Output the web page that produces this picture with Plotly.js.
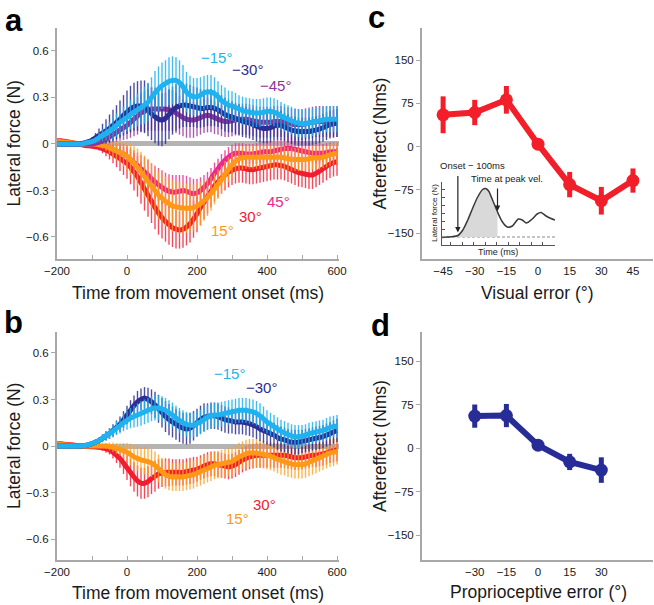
<!DOCTYPE html>
<html>
<head>
<meta charset="utf-8">
<script src="https://cdn.plot.ly/plotly-3.0.1.min.js"></script>
<style>html,body{margin:0;padding:0;background:#fff;}#chart{width:654px;height:605px;}</style>
</head>
<body>
<div id="chart"></div>
<script>
// ---------- time base (ms) ----------
var time_ms = [-200,-190,-180,-170,-160,-150,-140,-130,-120,-110,
  -100,-90,-80,-70,-60,-50,-40,-30,-20,-10,
  0,10,20,30,40,50,60,70,80,90,
  100,110,120,130,140,150,160,170,180,190,
  200,210,220,230,240,250,260,270,280,290,
  300,310,320,330,340,350,360,370,380,390,
  400,410,420,430,440,450,460,470,480,490,
  500,510,520,530,540,550,560,570,580,590,
  600];

// ---------- panel a : lateral force (N) ----------
var a_m15 = [0,0,0,0,0,0,0,0,0.005,0.01,
  0.015,0.025,0.04,0.055,0.07,0.085,0.10,0.12,0.14,0.155,
  0.17,0.19,0.205,0.22,0.235,0.25,0.27,0.3,0.33,0.355,
  0.375,0.39,0.405,0.41,0.41,0.395,0.37,0.335,0.315,0.305,
  0.305,0.315,0.33,0.335,0.335,0.325,0.305,0.28,0.265,0.25,
  0.245,0.235,0.225,0.215,0.21,0.205,0.2,0.2,0.2,0.205,
  0.21,0.21,0.205,0.195,0.18,0.17,0.16,0.15,0.14,0.135,
  0.13,0.13,0.135,0.14,0.145,0.15,0.155,0.16,0.16,0.16,
  0.16];
var a_m15_err = [0,0,0,0,0,0,0,0,0,0.005,
  0.01,0.02,0.03,0.04,0.05,0.06,0.07,0.075,0.08,0.085,
  0.09,0.095,0.1,0.105,0.11,0.12,0.125,0.13,0.14,0.145,
  0.15,0.15,0.155,0.155,0.15,0.145,0.14,0.13,0.125,0.12,
  0.12,0.115,0.11,0.11,0.11,0.105,0.1,0.1,0.1,0.095,
  0.095,0.095,0.09,0.09,0.09,0.09,0.09,0.09,0.09,0.09,
  0.09,0.09,0.09,0.09,0.09,0.09,0.09,0.09,0.09,0.09,
  0.09,0.09,0.09,0.09,0.09,0.09,0.085,0.085,0.085,0.085,
  0.085];
var a_m30 = [0,0,0,0,0,0,0,0.003,0.008,0.015,
  0.025,0.04,0.055,0.07,0.085,0.1,0.12,0.14,0.16,0.185,
  0.205,0.225,0.24,0.245,0.245,0.24,0.22,0.195,0.175,0.16,
  0.155,0.165,0.19,0.215,0.235,0.245,0.25,0.25,0.245,0.24,
  0.235,0.23,0.23,0.235,0.235,0.23,0.22,0.205,0.19,0.18,
  0.175,0.165,0.155,0.145,0.14,0.135,0.125,0.115,0.105,0.1,
  0.1,0.105,0.115,0.12,0.12,0.11,0.1,0.09,0.085,0.08,
  0.08,0.08,0.08,0.085,0.09,0.095,0.105,0.115,0.125,0.13,
  0.135];
var a_m30_err = [0,0,0,0,0,0,0,0,0.005,0.01,
  0.02,0.03,0.045,0.06,0.075,0.09,0.1,0.11,0.12,0.13,
  0.14,0.15,0.155,0.16,0.165,0.17,0.17,0.17,0.17,0.17,
  0.17,0.165,0.16,0.155,0.15,0.145,0.14,0.14,0.135,0.13,
  0.13,0.125,0.12,0.12,0.12,0.115,0.11,0.11,0.11,0.105,
  0.1,0.1,0.1,0.1,0.1,0.1,0.1,0.1,0.095,0.095,
  0.095,0.095,0.095,0.095,0.095,0.09,0.09,0.09,0.09,0.09,
  0.09,0.09,0.09,0.09,0.09,0.09,0.09,0.09,0.09,0.09,
  0.09];
var a_m45 = [0,0,0,0,0,0,0,0,0,0,
  0,0.005,0.01,0.02,0.03,0.045,0.06,0.075,0.09,0.105,
  0.12,0.14,0.16,0.18,0.2,0.21,0.22,0.225,0.225,0.225,
  0.225,0.225,0.22,0.215,0.2,0.185,0.17,0.16,0.155,0.155,
  0.16,0.17,0.18,0.185,0.18,0.17,0.16,0.15,0.145,0.145,
  0.15,0.155,0.16,0.16,0.16,0.155,0.15,0.145,0.14,0.14,
  0.14,0.14,0.145,0.145,0.145,0.14,0.135,0.13,0.125,0.125,
  0.125,0.13,0.135,0.14,0.145,0.145,0.145,0.145,0.145,0.145,
  0.145];
var a_m45_err = [0,0,0,0,0,0,0,0,0,0,
  0,0.005,0.01,0.02,0.03,0.04,0.05,0.06,0.07,0.08,
  0.09,0.1,0.11,0.12,0.125,0.13,0.135,0.14,0.14,0.14,
  0.14,0.14,0.135,0.13,0.13,0.125,0.12,0.12,0.115,0.115,
  0.11,0.11,0.11,0.11,0.105,0.105,0.1,0.1,0.1,0.1,
  0.1,0.1,0.1,0.1,0.1,0.1,0.1,0.1,0.1,0.1,
  0.1,0.1,0.1,0.1,0.1,0.1,0.1,0.1,0.1,0.1,
  0.1,0.1,0.1,0.1,0.1,0.1,0.1,0.1,0.1,0.1,
  0.1];
var a_p30 = [0.02,0.02,0.018,0.015,0.01,0.005,0,-0.005,-0.01,-0.012,
  -0.015,-0.018,-0.022,-0.03,-0.04,-0.05,-0.065,-0.08,-0.095,-0.11,
  -0.125,-0.15,-0.18,-0.21,-0.25,-0.29,-0.33,-0.37,-0.41,-0.445,
  -0.475,-0.5,-0.52,-0.54,-0.55,-0.555,-0.55,-0.535,-0.515,-0.485,
  -0.45,-0.41,-0.375,-0.34,-0.305,-0.27,-0.245,-0.22,-0.2,-0.18,
  -0.17,-0.16,-0.155,-0.155,-0.16,-0.165,-0.165,-0.16,-0.155,-0.15,
  -0.145,-0.14,-0.135,-0.135,-0.14,-0.145,-0.155,-0.165,-0.175,-0.185,
  -0.19,-0.195,-0.2,-0.2,-0.19,-0.175,-0.16,-0.145,-0.13,-0.12,
  -0.115];
var a_p30_err = [0,0,0,0,0,0,0,0,0,0.005,
  0.01,0.015,0.02,0.03,0.04,0.05,0.06,0.07,0.08,0.09,
  0.1,0.11,0.12,0.13,0.135,0.14,0.14,0.14,0.14,0.14,
  0.135,0.13,0.13,0.125,0.125,0.12,0.12,0.12,0.12,0.12,
  0.12,0.115,0.11,0.11,0.105,0.1,0.1,0.1,0.1,0.1,
  0.095,0.095,0.095,0.095,0.095,0.095,0.095,0.095,0.095,0.095,
  0.095,0.095,0.095,0.095,0.09,0.09,0.09,0.09,0.09,0.09,
  0.09,0.09,0.09,0.09,0.09,0.09,0.09,0.09,0.09,0.09,
  0.09];
var a_p15 = [0.015,0.015,0.012,0.01,0.008,0.005,0.003,0,0,0,
  0,0,-0.005,-0.01,-0.015,-0.025,-0.035,-0.045,-0.055,-0.065,
  -0.08,-0.1,-0.125,-0.15,-0.18,-0.21,-0.24,-0.27,-0.3,-0.33,
  -0.35,-0.37,-0.385,-0.4,-0.405,-0.41,-0.415,-0.415,-0.415,-0.41,
  -0.4,-0.385,-0.365,-0.345,-0.32,-0.29,-0.26,-0.23,-0.195,-0.165,
  -0.135,-0.11,-0.095,-0.09,-0.085,-0.085,-0.085,-0.085,-0.085,-0.085,
  -0.085,-0.085,-0.085,-0.085,-0.085,-0.09,-0.095,-0.1,-0.1,-0.1,
  -0.1,-0.1,-0.095,-0.09,-0.09,-0.09,-0.085,-0.08,-0.07,-0.065,
  -0.06];
var a_p15_err = [0,0,0,0,0,0,0,0,0,0,
  0,0.005,0.01,0.02,0.03,0.04,0.05,0.06,0.07,0.08,
  0.09,0.1,0.11,0.12,0.13,0.135,0.14,0.145,0.15,0.155,
  0.16,0.16,0.165,0.165,0.165,0.165,0.16,0.16,0.155,0.15,
  0.145,0.14,0.13,0.12,0.11,0.1,0.095,0.09,0.085,0.08,
  0.08,0.075,0.075,0.075,0.075,0.075,0.075,0.075,0.075,0.075,
  0.075,0.075,0.075,0.075,0.075,0.075,0.075,0.075,0.075,0.075,
  0.075,0.075,0.075,0.075,0.075,0.075,0.07,0.07,0.07,0.07,
  0.07];
var a_p45 = [0,0,0,0,0,0,0,0,0,0,
  0,0,-0.003,-0.008,-0.015,-0.025,-0.035,-0.045,-0.055,-0.065,
  -0.08,-0.1,-0.12,-0.14,-0.16,-0.18,-0.2,-0.225,-0.245,-0.265,
  -0.28,-0.295,-0.305,-0.31,-0.31,-0.305,-0.3,-0.305,-0.315,-0.32,
  -0.315,-0.3,-0.28,-0.255,-0.225,-0.19,-0.16,-0.13,-0.105,-0.085,
  -0.07,-0.06,-0.06,-0.06,-0.065,-0.065,-0.065,-0.06,-0.055,-0.05,
  -0.05,-0.05,-0.045,-0.04,-0.035,-0.03,-0.03,-0.03,-0.035,-0.04,
  -0.045,-0.05,-0.055,-0.06,-0.06,-0.06,-0.06,-0.055,-0.05,-0.05,
  -0.05];
var a_p45_err = [0,0,0,0,0,0,0,0,0,0,
  0,0.005,0.01,0.015,0.02,0.03,0.04,0.05,0.06,0.065,
  0.07,0.075,0.08,0.085,0.09,0.095,0.1,0.1,0.105,0.11,
  0.11,0.11,0.11,0.11,0.11,0.105,0.1,0.1,0.1,0.095,
  0.09,0.085,0.08,0.075,0.07,0.07,0.065,0.065,0.065,0.065,
  0.065,0.065,0.065,0.065,0.065,0.065,0.065,0.065,0.065,0.065,
  0.065,0.065,0.065,0.065,0.065,0.065,0.065,0.065,0.065,0.065,
  0.065,0.065,0.065,0.065,0.065,0.065,0.06,0.06,0.06,0.06,
  0.06];

// ---------- panel b : lateral force (N) ----------
var b_m15 = [0,0,0,0,0,0,0,0,0.003,0.008,
  0.015,0.025,0.035,0.05,0.065,0.08,0.095,0.115,0.13,0.15,
  0.165,0.18,0.19,0.2,0.21,0.22,0.23,0.24,0.245,0.245,
  0.24,0.23,0.215,0.2,0.18,0.165,0.15,0.14,0.135,0.135,
  0.145,0.155,0.17,0.185,0.195,0.2,0.2,0.205,0.21,0.215,
  0.22,0.225,0.23,0.23,0.23,0.225,0.22,0.21,0.195,0.175,
  0.155,0.14,0.125,0.11,0.095,0.085,0.075,0.065,0.06,0.06,
  0.065,0.07,0.08,0.085,0.09,0.095,0.1,0.11,0.12,0.125,
  0.13];
var b_m15_err = [0,0,0,0,0,0,0,0,0,0.005,
  0.01,0.015,0.02,0.025,0.03,0.035,0.04,0.045,0.05,0.055,
  0.06,0.065,0.07,0.075,0.08,0.08,0.08,0.08,0.08,0.08,
  0.08,0.08,0.08,0.08,0.08,0.08,0.08,0.08,0.08,0.08,
  0.08,0.08,0.08,0.08,0.08,0.08,0.08,0.08,0.08,0.08,
  0.08,0.08,0.08,0.08,0.08,0.08,0.08,0.08,0.08,0.08,
  0.075,0.075,0.075,0.075,0.075,0.075,0.075,0.075,0.075,0.075,
  0.07,0.07,0.07,0.07,0.07,0.07,0.07,0.07,0.07,0.07,
  0.07];
var b_m30 = [0,0,0,0,0,0,0,0,0.003,0.008,
  0.015,0.025,0.035,0.05,0.065,0.08,0.1,0.12,0.14,0.17,
  0.2,0.23,0.26,0.285,0.3,0.31,0.3,0.285,0.265,0.24,
  0.215,0.19,0.17,0.155,0.14,0.125,0.115,0.11,0.115,0.13,
  0.15,0.17,0.185,0.19,0.195,0.195,0.19,0.18,0.17,0.165,
  0.16,0.155,0.155,0.155,0.15,0.145,0.135,0.125,0.11,0.1,
  0.09,0.08,0.07,0.055,0.045,0.04,0.03,0.025,0.025,0.025,
  0.03,0.035,0.04,0.045,0.05,0.055,0.06,0.07,0.08,0.09,
  0.1];
var b_m30_err = [0,0,0,0,0,0,0,0,0,0.005,
  0.01,0.015,0.02,0.025,0.03,0.035,0.04,0.045,0.05,0.055,
  0.06,0.065,0.065,0.07,0.07,0.07,0.075,0.08,0.085,0.09,
  0.095,0.1,0.1,0.1,0.1,0.1,0.1,0.1,0.1,0.095,
  0.09,0.09,0.09,0.085,0.085,0.085,0.085,0.085,0.085,0.085,
  0.08,0.08,0.08,0.08,0.08,0.08,0.08,0.08,0.08,0.08,
  0.08,0.08,0.08,0.08,0.08,0.08,0.08,0.08,0.08,0.08,
  0.075,0.075,0.075,0.075,0.075,0.075,0.075,0.075,0.075,0.075,
  0.075];
var b_p30 = [0.015,0.015,0.012,0.01,0.008,0.005,0.002,0,-0.002,-0.004,
  -0.005,-0.006,-0.008,-0.012,-0.018,-0.025,-0.04,-0.06,-0.08,-0.11,
  -0.14,-0.17,-0.2,-0.225,-0.24,-0.24,-0.23,-0.21,-0.195,-0.18,
  -0.175,-0.17,-0.17,-0.17,-0.17,-0.17,-0.17,-0.165,-0.16,-0.155,
  -0.15,-0.14,-0.13,-0.12,-0.115,-0.115,-0.12,-0.125,-0.13,-0.135,
  -0.13,-0.12,-0.105,-0.09,-0.08,-0.07,-0.065,-0.06,-0.06,-0.06,
  -0.06,-0.06,-0.06,-0.06,-0.06,-0.06,-0.065,-0.07,-0.075,-0.075,
  -0.075,-0.07,-0.065,-0.06,-0.06,-0.055,-0.05,-0.045,-0.035,-0.03,
  -0.025];
var b_p30_err = [0,0,0,0,0,0,0,0,0,0.005,
  0.005,0.01,0.015,0.02,0.025,0.03,0.04,0.05,0.06,0.07,
  0.08,0.09,0.095,0.1,0.1,0.1,0.1,0.1,0.1,0.095,
  0.09,0.09,0.09,0.085,0.085,0.085,0.085,0.085,0.085,0.085,
  0.08,0.08,0.08,0.08,0.08,0.08,0.08,0.08,0.08,0.08,
  0.08,0.08,0.08,0.08,0.08,0.08,0.08,0.08,0.08,0.08,
  0.08,0.08,0.08,0.08,0.08,0.08,0.08,0.08,0.08,0.08,
  0.075,0.075,0.075,0.075,0.075,0.075,0.075,0.075,0.075,0.075,
  0.075];
var b_p15 = [0.01,0.01,0.008,0.006,0.004,0.002,0,0,0,0,
  0,0,0,0,0,-0.003,-0.008,-0.015,-0.022,-0.03,
  -0.04,-0.055,-0.07,-0.08,-0.09,-0.095,-0.1,-0.11,-0.125,-0.145,
  -0.165,-0.185,-0.195,-0.2,-0.2,-0.2,-0.2,-0.195,-0.19,-0.185,
  -0.175,-0.165,-0.155,-0.145,-0.135,-0.125,-0.12,-0.115,-0.11,-0.105,
  -0.1,-0.085,-0.07,-0.06,-0.05,-0.045,-0.045,-0.045,-0.05,-0.055,
  -0.06,-0.065,-0.075,-0.085,-0.095,-0.1,-0.11,-0.115,-0.12,-0.12,
  -0.12,-0.115,-0.105,-0.095,-0.085,-0.075,-0.065,-0.055,-0.045,-0.04,
  -0.035];
var b_p15_err = [0,0,0,0,0,0,0,0,0,0,
  0,0.005,0.01,0.015,0.02,0.025,0.03,0.035,0.04,0.05,
  0.06,0.07,0.075,0.08,0.085,0.09,0.09,0.09,0.09,0.09,
  0.09,0.09,0.09,0.09,0.09,0.09,0.09,0.09,0.09,0.09,
  0.09,0.09,0.09,0.09,0.09,0.09,0.09,0.09,0.09,0.09,
  0.09,0.09,0.09,0.09,0.09,0.09,0.09,0.09,0.09,0.09,
  0.09,0.09,0.09,0.09,0.09,0.09,0.09,0.09,0.09,0.09,
  0.09,0.09,0.09,0.09,0.09,0.09,0.09,0.09,0.09,0.09,
  0.085];

// ---------- panels c and d : aftereffect (Nms) ----------
var visual_error = [-45,-30,-15,0,15,30,45];
var visual_after = [55,59,81,4,-66,-94,-59];
var visual_after_err = [32,22,24,6,22,24,21];
var prop_error = [-30,-15,0,15,30];
var prop_after = [55,56,5,-24,-38];
var prop_after_err = [20,20,5,14,22];

// ---------- inset (schematic lateral-force trace) ----------
var inset_time  = [0,5,10,16,21,26,31,36,41,44,47,51,56,61,66,71,77,81,85,91,96,100,105,110,114];
var inset_force = [-0.5,0,0.3,1.5,7,17,29,40,47.5,48.5,46,37,25,15,10,11,18,17,14,18,23,24.5,21,18.5,17];
var inset_onset_idx = 3;   // onset - 100 ms
var inset_peakvel_idx = 12; // time at peak velocity

// ---------- tick labels ----------
var time_tickvals = [-200,-100,0,100,200,300,400,500,600];
var time_ticktext = ['\u2212200','','0','','200','','400','','600'];
var force_tickvals = [-0.6,-0.3,0,0.3,0.6];
var force_ticktext = ['\u22120.6','\u22120.3','0','0.3','0.6'];
var after_tickvals = [-150,-75,0,75,150];
var after_ticktext = ['\u2212150','\u221275','0','75','150'];
var visual_tickvals = [-45,-30,-15,0,15,30,45];
var visual_ticktext = ['\u221245','\u221230','\u221215','0','15','30','45'];
var prop_tickvals = [-30,-15,0,15,30];
var prop_ticktext = ['\u221230','\u221215','0','15','30'];

// ---------- styling ----------
var FONT = 'Liberation Sans, Arial, Helvetica, sans-serif';
var C = {
  m15: 'rgb(30,178,238)', m30: 'rgb(44,46,148)', m45: 'rgb(142,52,152)',
  p30: 'rgb(240,28,48)', p15: 'rgb(255,152,22)', p45: 'rgb(236,40,140)'
};
var CE = {
  m15: 'rgba(30,178,238,0.85)', m30: 'rgba(44,46,148,0.85)', m45: 'rgba(142,52,152,0.8)',
  p30: 'rgba(240,28,48,0.8)', p15: 'rgba(255,160,30,0.8)', p45: 'rgba(236,40,140,0.8)'
};
var W = 654, H = 605;
function PX(px){ return px / W; }
function PY(py){ return 1 - py / H; }

function forceTrace(y, err, key, xa, ya){
  return {
    type: 'scatter', mode: 'lines', x: time_ms, y: y, xaxis: xa, yaxis: ya,
    line: {color: C[key], width: 5, shape: 'spline', smoothing: 0.6},
    error_y: {type: 'data', array: err, visible: true, color: CE[key], thickness: 1.4, width: 0},
    hoverinfo: 'skip'
  };
}

var data = [
  forceTrace(a_p30, a_p30_err, 'p30', 'x', 'y'),
  forceTrace(a_p45, a_p45_err, 'p45', 'x', 'y'),
  forceTrace(a_p15, a_p15_err, 'p15', 'x', 'y'),
  forceTrace(a_m45, a_m45_err, 'm45', 'x', 'y'),
  forceTrace(a_m30, a_m30_err, 'm30', 'x', 'y'),
  forceTrace(a_m15, a_m15_err, 'm15', 'x', 'y'),
  forceTrace(b_p30, b_p30_err, 'p30', 'x2', 'y2'),
  forceTrace(b_p15, b_p15_err, 'p15', 'x2', 'y2'),
  forceTrace(b_m30, b_m30_err, 'm30', 'x2', 'y2'),
  forceTrace(b_m15, b_m15_err, 'm15', 'x2', 'y2'),
  {
    type: 'scatter', mode: 'lines+markers', x: visual_error, y: visual_after,
    xaxis: 'x3', yaxis: 'y3',
    line: {color: 'rgb(242,30,42)', width: 6},
    marker: {color: 'rgb(242,30,42)', size: 13},
    error_y: {type: 'data', array: visual_after_err, visible: true, color: 'rgb(242,30,42)', thickness: 5, width: 0}
  },
  {
    type: 'scatter', mode: 'lines+markers', x: prop_error, y: prop_after,
    xaxis: 'x4', yaxis: 'y4',
    line: {color: 'rgb(40,44,150)', width: 6},
    marker: {color: 'rgb(40,44,150)', size: 13},
    error_y: {type: 'data', array: prop_after_err, visible: true, color: 'rgb(40,44,150)', thickness: 5, width: 0}
  },
  {
    type: 'scatter', mode: 'lines',
    x: inset_time.slice(inset_onset_idx, inset_peakvel_idx + 1),
    y: inset_force.slice(inset_onset_idx, inset_peakvel_idx + 1),
    xaxis: 'x5', yaxis: 'y5', fill: 'tozeroy', fillcolor: 'rgb(217,217,217)',
    line: {width: 0, color: 'rgba(0,0,0,0)', shape: 'spline'}
  },
  {
    type: 'scatter', mode: 'lines', x: inset_time, y: inset_force,
    xaxis: 'x5', yaxis: 'y5',
    line: {color: '#3a3a3a', width: 1.5, shape: 'spline', smoothing: 0.8}
  }
];

var tickfont = {family: FONT, size: 11.5, color: '#1a1a1a'};
var axisBase = {
  showline: true, linecolor: '#a8a8a8', linewidth: 2, showgrid: false, zeroline: false,
  tickcolor: '#a8a8a8', ticklen: 4, tickwidth: 1, tickfont: tickfont, fixedrange: true
};
function ax(extra){ var o = {}; for (var k in axisBase) o[k] = axisBase[k]; for (var k2 in extra) o[k2] = extra[k2]; return o; }

var layout = {
  width: W, height: H, margin: {l: 0, r: 0, t: 0, b: 0},
  paper_bgcolor: '#fff', plot_bgcolor: 'rgba(0,0,0,0)', showlegend: false,
  font: {family: FONT, color: '#1a1a1a'},
  xaxis: ax({domain: [PX(57), PX(339)], range: [-200, 605.7], anchor: 'y',
    tickmode: 'array', tickvals: time_tickvals, ticktext: time_ticktext, ticks: 'inside'}),
  yaxis: ax({domain: [PY(259), PY(28)], range: [-0.742, 0.748], anchor: 'x',
    tickmode: 'array', tickvals: force_tickvals, ticktext: force_ticktext, ticks: 'outside',
    zeroline: true, zerolinecolor: '#b4b4b4', zerolinewidth: 5}),
  xaxis2: ax({domain: [PX(57), PX(339)], range: [-200, 605.7], anchor: 'y2',
    tickmode: 'array', tickvals: time_tickvals, ticktext: time_ticktext, ticks: 'inside'}),
  yaxis2: ax({domain: [PY(560), PY(332)], range: [-0.735, 0.735], anchor: 'x2',
    tickmode: 'array', tickvals: force_tickvals, ticktext: force_ticktext, ticks: 'outside',
    zeroline: true, zerolinecolor: '#b4b4b4', zerolinewidth: 5}),
  xaxis3: ax({domain: [PX(422), PX(653)], range: [-55, 54.5], anchor: 'y3',
    tickmode: 'array', tickvals: visual_tickvals, ticktext: visual_ticktext, ticks: ''}),
  yaxis3: ax({domain: [PY(259), PY(28)], range: [-195, 205.5], anchor: 'x3',
    tickmode: 'array', tickvals: after_tickvals, ticktext: after_ticktext, ticks: 'outside'}),
  xaxis4: ax({domain: [PX(422), PX(653)], range: [-55, 54.5], anchor: 'y4',
    tickmode: 'array', tickvals: prop_tickvals, ticktext: prop_ticktext, ticks: ''}),
  yaxis4: ax({domain: [PY(560), PY(332)], range: [-193, 200], anchor: 'x4',
    tickmode: 'array', tickvals: after_tickvals, ticktext: after_ticktext, ticks: 'outside'}),
  xaxis5: {domain: [PX(442), PX(555)], range: [0, 114], anchor: 'y5', showline: true,
    linecolor: '#555', linewidth: 1, ticks: 'inside', ticklen: 3, tickcolor: '#555',
    tick0: 9, dtick: 11.6, showticklabels: false, showgrid: false, zeroline: false, fixedrange: true},
  yaxis5: {domain: [PY(245), PY(182)], range: [-8, 55], anchor: 'x5', showline: true,
    linecolor: '#555', linewidth: 1, ticks: 'inside', ticklen: 3, tickcolor: '#555',
    tick0: 0, dtick: 8, showticklabels: false, showgrid: false, zeroline: false, fixedrange: true},
  shapes: [
    {type: 'line', xref: 'x5 domain', yref: 'y5', x0: 0, x1: 1, y0: 0, y1: 0,
     line: {color: '#8a8a8a', width: 1, dash: '3px,2px'}, layer: 'below'}
  ],
  annotations: []
};

function ann(text, x, y, opts){
  var a = {text: text, x: x, y: y, xref: 'paper', yref: 'paper', showarrow: false,
    xanchor: 'center', yanchor: 'middle', font: {family: FONT, size: 17.5, color: '#1a1a1a'}};
  for (var k in (opts || {})) a[k] = opts[k];
  return a;
}
var A = layout.annotations;
// panel letters
A.push(ann('<b>a</b>', PX(13.5), PY(21), {font: {family: FONT, size: 31, color: '#000'}}));
A.push(ann('<b>b</b>', PX(13.5), PY(322), {font: {family: FONT, size: 31, color: '#000'}}));
A.push(ann('<b>c</b>', PX(376), PY(18), {font: {family: FONT, size: 31, color: '#000'}}));
A.push(ann('<b>d</b>', PX(381), PY(325), {font: {family: FONT, size: 31, color: '#000'}}));
// axis titles
A.push(ann('Lateral force (N)', PX(14), PY(143.5), {textangle: -90}));
A.push(ann('Lateral force (N)', PX(14), PY(446), {textangle: -90}));
A.push(ann('Time from movement onset (ms)', PX(198), PY(293)));
A.push(ann('Time from movement onset (ms)', PX(198), PY(593)));
A.push(ann('Aftereffect (Nms)', PX(380), PY(143.5), {textangle: -90}));
A.push(ann('Aftereffect (Nms)', PX(380), PY(446), {textangle: -90}));
A.push(ann('Visual error (\u00b0)', PX(537), PY(293)));
A.push(ann('Proprioceptive error (\u00b0)', PX(538), PY(592)));
// series labels
function lab(text, x, y, color, xr, yr){
  return {text: text, x: x, y: y, xref: xr, yref: yr, showarrow: false,
    xanchor: 'center', yanchor: 'middle', font: {family: FONT, size: 15, color: color}};
}
A.push(lab('\u221215\u00b0', 257, 0.555, C.m15, 'x', 'y'));
A.push(lab('\u221230\u00b0', 343, 0.48, C.m30, 'x', 'y'));
A.push(lab('\u221245\u00b0', 423, 0.38, C.m45, 'x', 'y'));
A.push(lab('45\u00b0', 432, -0.37, C.p45, 'x', 'y'));
A.push(lab('30\u00b0', 354, -0.47, C.p30, 'x', 'y'));
A.push(lab('15\u00b0', 274, -0.555, C.p15, 'x', 'y'));
A.push(lab('\u221215\u00b0', 294, 0.47, C.m15, 'x2', 'y2'));
A.push(lab('\u221230\u00b0', 383, 0.38, C.m30, 'x2', 'y2'));
A.push(lab('30\u00b0', 394, -0.375, C.p30, 'x2', 'y2'));
A.push(lab('15\u00b0', 315, -0.465, C.p15, 'x2', 'y2'));
// inset text and arrows
A.push(ann('Onset \u2212 100ms', PX(472), PY(166), {font: {family: FONT, size: 9.5, color: '#1a1a1a'}}));
A.push(ann('Time at peak vel.', PX(507), PY(179), {font: {family: FONT, size: 9.5, color: '#1a1a1a'}}));
A.push(ann('Lateral force (N)', PX(434), PY(213), {textangle: -90, font: {family: FONT, size: 8, color: '#1a1a1a'}}));
A.push(ann('Time (ms)', PX(498), PY(252), {font: {family: FONT, size: 9, color: '#1a1a1a'}}));
A.push({text: '', xref: 'x5', yref: 'y5', x: inset_time[inset_onset_idx], y: inset_force[inset_onset_idx] + 3,
  showarrow: true, arrowhead: 2, arrowsize: 0.9, arrowwidth: 1.2, arrowcolor: '#222', ax: 0, ay: -58});
A.push({text: '', xref: 'x5', yref: 'y5', x: inset_time[inset_peakvel_idx], y: inset_force[inset_peakvel_idx] + 1,
  showarrow: true, arrowhead: 2, arrowsize: 0.9, arrowwidth: 1.2, arrowcolor: '#222', ax: 0, ay: -24});

Plotly.newPlot('chart', data, layout, {staticPlot: true, displayModeBar: false});
</script>
</body>
</html>
